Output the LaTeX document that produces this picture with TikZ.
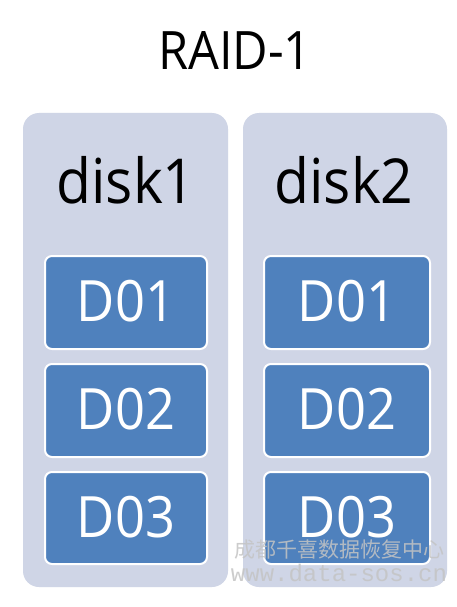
\documentclass[tikz,border=0pt]{standalone}
\usepackage{fontspec}
\setmainfont{Open Sans}
\newfontfamily\dfont[FakeStretch=0.92]{Open Sans}
\newfontfamily\cjk{Noto Sans CJK SC}
\newfontfamily\wmono{Liberation Mono}
\definecolor{panelc}{HTML}{CFD5E6}
\definecolor{boxc}{HTML}{4F81BD}
\definecolor{wmc}{HTML}{C4C4C4}
\begin{document}
\begin{tikzpicture}[x=1pt,y=-1pt,
  panel/.style={fill=panelc, rounded corners=16pt},
  dbox/.style={fill=boxc, draw=white, line width=2pt, rounded corners=7pt},
  dlabel/.style={anchor=base, text=white, font=\dfont\fontsize{57}{60}\selectfont, inner sep=0pt},
  disklabel/.style={anchor=base, font=\dfont\fontsize{62}{66}\selectfont, inner sep=0pt},
  wm/.style={text=wmc, inner sep=0pt, anchor=base}]
\useasboundingbox (0,0) rectangle (457,607);
\fill[white] (0,0) rectangle (457,607);
\node[anchor=base, font=\dfont\fontsize{53}{56}\selectfont, inner sep=0pt] (title) at (235,70) {RAID-1};
% panels
\fill[panel] (23,113) rectangle (228,587);
\fill[panel] (243,113) rectangle (447,587);
\node[disklabel] (disk1) at (126,203) {disk1};
\node[disklabel] (disk2) at (344,203) {disk2};
% boxes disk1
\draw[dbox] (45,256) rectangle (207,349);
\draw[dbox] (45,364) rectangle (207,457);
\draw[dbox] (45,472) rectangle (207,564);
% boxes disk2
\draw[dbox] (264,256) rectangle (430,349);
\draw[dbox] (264,364) rectangle (430,457);
\draw[dbox] (264,472) rectangle (430,564);
\node[dlabel] (a1) at (126,321) {D01};
\node[dlabel] (a2) at (126,429) {D02};
\node[dlabel] (a3) at (126,537) {D03};
\node[dlabel] (b1) at (347,321) {D01};
\node[dlabel] (b2) at (347,429) {D02};
\node[dlabel] (b3) at (347,537) {D03};
% watermark
\node[wm, font=\cjk\fontsize{21}{22}\selectfont, opacity=0.85] (wm1) at (339,557) {成都千喜数据恢复中心};
\node[wm, font=\wmono\fontsize{24}{26}\selectfont, opacity=0.85] (wm2) at (339,581) {www.data-sos.cn};
\end{tikzpicture}
\end{document}
